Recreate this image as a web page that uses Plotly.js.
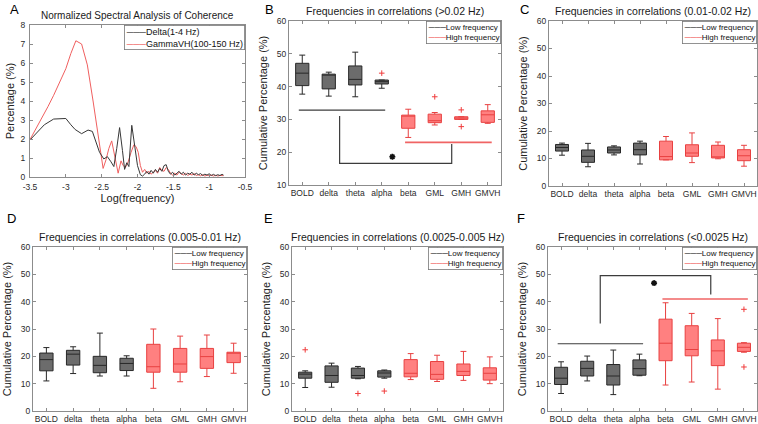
<!DOCTYPE html>
<html><head><meta charset="utf-8">
<script src="https://cdn.plot.ly/plotly-3.0.1.min.js"></script>
<style>html,body{margin:0;padding:0;background:#fff}#chart{width:758px;height:424px}</style>
</head><body><div id="chart"></div>
<script>
// ---------- Panel A data ----------
const deltaX = [-3.5,-3.4,-3.3,-3.17,-3.0,-2.93,-2.87,-2.78,-2.69,-2.63,-2.58,-2.53,-2.47,-2.42,-2.37,-2.33,-2.29,-2.25,-2.21,-2.18,-2.15,-2.12,-2.08,-2.04,-2.0,-1.96,-1.93,
  -1.9,-1.87,-1.84,-1.81,-1.78,-1.75,-1.72,-1.69,-1.66,-1.63,-1.6,-1.57,-1.54,-1.51,-1.48,-1.45,-1.42,-1.39,-1.36,-1.33,-1.3,-1.27,-1.24,-1.21,-1.18,-1.15,-1.12,-1.09,-1.06,-1.03,-1.0,-0.97,-0.94,-0.91,-0.88,-0.85,-0.82,-0.8];
const deltaY = [1.95,2.35,2.75,3.05,3.08,2.75,2.5,2.28,2.47,2.4,1.9,1.3,0.95,1.07,0.8,0.55,1.5,2.6,1.4,0.4,0.75,0.55,2.72,1.6,0.6,0.12,0.05,
  0.15,0.3,0.15,0.35,0.2,0.4,0.25,0.45,0.3,0.6,0.65,0.3,0.15,0.25,0.1,0.2,0.3,0.15,0.25,0.1,0.2,0.15,0.25,0.1,0.2,0.12,0.18,0.08,0.15,0.1,0.17,0.08,0.14,0.07,0.12,0.08,0.14,0.1];
const gammaX = [-3.5,-3.42,-3.34,-3.25,-3.17,-3.08,-3.0,-2.93,-2.86,-2.78,-2.7,-2.62,-2.57,-2.53,-2.48,-2.44,-2.4,-2.36,-2.33,-2.3,-2.27,-2.23,-2.2,-2.17,-2.13,-2.09,-2.05,-2.02,-1.99,-1.96,-1.93,
  -1.9,-1.87,-1.84,-1.81,-1.78,-1.75,-1.72,-1.69,-1.66,-1.63,-1.6,-1.57,-1.54,-1.51,-1.48,-1.45,-1.42,-1.39,-1.36,-1.33,-1.3,-1.27,-1.24,-1.21,-1.18,-1.15,-1.12,-1.09,-1.06,-1.03,-1.0,-0.97,-0.94,-0.91,-0.88,-0.85,-0.82,-0.8];
const gammaY = [1.97,2.5,3.1,3.7,4.3,5.0,5.7,6.5,7.17,7.0,5.9,4.0,2.8,1.6,0.45,0.9,1.5,1.9,1.3,0.6,0.2,0.85,0.6,0.5,0.8,1.3,1.7,1.6,1.3,0.6,0.25,
  0.4,0.2,0.3,0.15,0.25,0.35,0.2,0.5,0.35,0.3,0.5,0.4,0.2,0.1,0.2,0.1,0.25,0.15,0.1,0.2,0.08,0.15,0.1,0.18,0.08,0.12,0.06,0.12,0.05,0.1,0.06,0.1,0.05,0.09,0.05,0.08,0.05,0.07];
const aTickVals = [-3.5,-3,-2.5,-2,-1.5,-1,-0.5];
const aTickText = ['-3.5','-3','-2.5','-2','-1.5','-1','-0.5'];

// ---------- Box panels ----------
const cats = ['BOLD','delta','theta','alpha','beta','GML','GMH','GMVH'];
const nLow = 4;

// B (>0.02 Hz)
const bLo  = [37.7,37.1,36.9,39.5,24.5,28.3,30.0,28.8];
const bQ1  = [40.3,39.3,40.5,40.8,27.3,29.0,30.0,29.1];
const bMed = [44.1,43.6,42.2,41.5,31.0,29.6,30.4,31.4];
const bQ3  = [47.1,43.8,46.3,42.0,31.3,31.6,30.8,32.6];
const bHi  = [49.6,44.4,50.5,42.0,33.1,32.1,30.8,34.5];
const bOutCat = ['alpha','GML','GMH','GMH'];
const bOutVal = [44.1,36.9,32.9,27.8];
const bLowBarX = [0.87,4.13], bLowBarY = [32.8,32.8];
const bHighBarX = [4.88,8.15], bHighBarY = [23.0,23.0];
const bBracketX = [2.41,2.41,6.64,6.64], bBracketY = [31.0,16.6,16.6,22.5];
const bStar = [4.4,18.6];

// C (0.01-0.02 Hz)
const cLo  = [11.2,7.0,11.3,8.0,9.5,8.5,9.9,7.2];
const cQ1  = [12.7,8.6,12.0,11.3,9.5,10.8,10.2,9.2];
const cMed = [14.0,10.8,13.1,13.2,10.7,12.0,10.6,11.0];
const cQ3  = [15.1,13.1,14.2,15.6,16.3,15.0,14.8,13.2];
const cHi  = [15.6,15.5,14.6,16.3,18.0,19.3,16.0,14.8];

// D (0.005-0.01 Hz)
const dLo  = [11.0,13.7,12.8,12.8,8.3,10.7,12.6,13.8];
const dQ1  = [14.7,16.8,14.0,14.8,14.2,14.2,15.6,17.7];
const dMed = [18.8,20.8,16.7,17.4,16.2,17.2,19.9,21.2];
const dQ3  = [21.2,22.2,20.0,19.3,24.4,22.9,22.9,21.5];
const dHi  = [23.2,23.5,28.5,20.2,30.0,27.4,27.8,24.8];

// E (0.0025-0.005 Hz)
const eLo  = [8.6,8.7,11.8,12.0,11.5,10.8,11.2,10.0];
const eQ1  = [12.0,10.5,12.0,12.4,12.5,11.6,13.0,11.3];
const eMed = [13.5,13.0,13.0,13.9,13.8,13.4,14.5,13.8];
const eQ3  = [14.2,16.5,15.7,14.7,18.8,18.1,17.2,15.8];
const eHi  = [14.7,17.5,16.3,15.0,21.0,20.4,21.8,19.8];
const eOutCat = ['BOLD','theta','alpha'];
const eOutVal = [22.4,6.4,7.3];

// F (<0.0025 Hz)
const fLo  = [6.4,11.0,6.0,12.9,9.5,10.6,8.0,21.5];
const fQ1  = [9.7,12.8,9.5,13.1,18.4,20.2,16.6,21.8];
const fMed = [12.0,15.6,12.8,15.5,24.8,22.5,22.0,23.3];
const fQ3  = [16.0,18.2,17.0,18.7,33.6,31.2,26.0,24.8];
const fHi  = [18.0,20.1,22.3,20.8,39.6,35.7,33.8,25.0];
const fOutCat = ['GMVH','GMVH'];
const fOutVal = [37.2,16.1];
const fLowBarX = [0.87,4.14], fLowBarY = [24.6,24.6];
const fHighBarX = [4.88,8.15], fHighBarY = [41.0,41.0];
const fBracketX = [2.5,2.5,6.73,6.73], fBracketY = [32.0,49.5,49.5,42.6];
const fStar = [4.56,46.8];

// ---------- styling ----------
const W = 758, H = 424;
const FONT = 'Liberation Sans, Arial, Helvetica, sans-serif';
const LOW_FILL = 'rgb(108,108,108)', LOW_LINE = 'rgb(40,40,40)';
const HIGH_FILL = 'rgb(255,128,128)', HIGH_LINE = 'rgb(232,64,64)';
const BAR_DARK = 'rgb(60,60,60)', BAR_RED = 'rgb(240,100,100)';
const pos = c => cats.indexOf(c) + 1;

const traces = [];
traces.push({type:'scatter', mode:'lines', x:gammaX, y:gammaY, xaxis:'x', yaxis:'y',
  line:{color:'rgb(240,95,95)', width:1}, showlegend:false, hoverinfo:'skip'});
traces.push({type:'scatter', mode:'lines', x:deltaX, y:deltaY, xaxis:'x', yaxis:'y',
  line:{color:'rgb(55,55,55)', width:1}, showlegend:false, hoverinfo:'skip'});

function addBoxes(n, lo, q1, med, q3, hi) {
  const xa = 'x' + n, ya = 'y' + n;
  const groups = [[0, nLow, LOW_FILL, LOW_LINE], [nLow, cats.length, HIGH_FILL, HIGH_LINE]];
  groups.forEach(([s, e, fill, line]) => {
    traces.push({type:'box', xaxis:xa, yaxis:ya, showlegend:false,
      x: cats.slice(s, e).map(pos),
      lowerfence: lo.slice(s, e), q1: q1.slice(s, e), median: med.slice(s, e),
      q3: q3.slice(s, e), upperfence: hi.slice(s, e),
      width: 0.5, whiskerwidth: 0.45, boxpoints: false,
      fillcolor: fill, line:{color: line, width: 1}, hoverinfo:'skip'});
  });
}
function addOutliers(n, oc, ov) {
  traces.push({type:'scatter', mode:'markers', xaxis:'x'+n, yaxis:'y'+n, showlegend:false,
    x: oc.map(pos), y: ov, marker:{symbol:'cross-thin', size:4, color:'rgb(240,60,60)', line:{color:'rgb(240,60,60)', width:1}}, hoverinfo:'skip'});
}
function addLine(n, xs, ys, color, w) {
  traces.push({type:'scatter', mode:'lines', xaxis:'x'+n, yaxis:'y'+n, showlegend:false,
    x: xs, y: ys, line:{color: color, width: w}, hoverinfo:'skip'});
}
function addStar(n, p) {
  traces.push({type:'scatter', mode:'markers', xaxis:'x'+n, yaxis:'y'+n, showlegend:false,
    x:[p[0]], y:[p[1]], marker:{symbol:'asterisk', size:5, color:'#111', line:{color:'#111', width:1.6}}, hoverinfo:'skip'});
}

addLine(2, bLowBarX, bLowBarY, BAR_DARK, 1.2);
addLine(2, bHighBarX, bHighBarY, BAR_RED, 1.6);
addLine(2, bBracketX, bBracketY, BAR_DARK, 1.2);
addBoxes(2, bLo, bQ1, bMed, bQ3, bHi);
addOutliers(2, bOutCat, bOutVal);
addStar(2, bStar);

addBoxes(3, cLo, cQ1, cMed, cQ3, cHi);
addBoxes(4, dLo, dQ1, dMed, dQ3, dHi);
addBoxes(5, eLo, eQ1, eMed, eQ3, eHi);
addOutliers(5, eOutCat, eOutVal);

addLine(6, fLowBarX, fLowBarY, BAR_DARK, 1.2);
addLine(6, fHighBarX, fHighBarY, BAR_RED, 1.6);
addLine(6, fBracketX, fBracketY, BAR_DARK, 1.2);
addBoxes(6, fLo, fQ1, fMed, fQ3, fHi);
addOutliers(6, fOutCat, fOutVal);
addStar(6, fStar);

// ---------- layout ----------
const px = [[30,245],[289,501],[549,757],[33,247],[292,503],[548,757]];
const py = [[25,177],[21,185],[21,186],[247,411],[247,411],[247,411]];
const yRanges = [[0,8],[10,60],[0,60],[0,60],[0,60],[0,60]];
const titles = ['Normalized Spectral Analysis of Coherence',
  'Frequencies in correlations (>0.02 Hz)',
  'Frequencies in correlations (0.01-0.02 Hz)',
  'Frequencies in correlations (0.005-0.01 Hz)',
  'Frequencies in correlations (0.0025-0.005 Hz)',
  'Frequencies in correlations (<0.0025 Hz)'];
const letters = ['A','B','C','D','E','F'];
const letterPos = [[8,9],[263,9],[518,9],[5,218],[262,218],[515,218]];

function baseAxis() {
  return {showline:true, mirror:'ticks', linecolor:'#8c8c8c', linewidth:1,
    ticks:'inside', ticklen:3, tickcolor:'#8c8c8c', showgrid:false, zeroline:false,
    automargin:false, fixedrange:true, tickangle:0,
    tickfont:{family:FONT, size:8.5, color:'#2a2a2a'}};
}

const layout = {width:W, height:H, margin:{l:0,r:0,t:0,b:0},
  paper_bgcolor:'#fff', plot_bgcolor:'#fff', showlegend:false, boxmode:'overlay',
  annotations:[], font:{family:FONT}};

for (let i = 0; i < 6; i++) {
  const k = i === 0 ? '' : String(i + 1);
  const xa = baseAxis(), ya = baseAxis();
  xa.domain = [px[i][0] / W, px[i][1] / W];
  ya.domain = [1 - py[i][1] / H, 1 - py[i][0] / H];
  xa.anchor = 'y' + k; ya.anchor = 'x' + k;
  ya.range = yRanges[i];
  if (i === 0) {
    xa.range = [-3.5, -0.5]; xa.tickmode = 'array'; xa.tickvals = aTickVals; xa.ticktext = aTickText;
    xa.ticklabelstandoff = 2; ya.ticklabelstandoff = 2;
    xa.title = {text:'Log(frequency)', font:{family:FONT, size:11, color:'#222'}, standoff:0};
    ya.tickmode = 'linear'; ya.tick0 = 0; ya.dtick = 1;
    ya.title = {text:'Percentage (%)', font:{family:FONT, size:11, color:'#222'}, standoff:3};
  } else {
    xa.range = [0.5, 8.5]; xa.tickmode = 'array';
    xa.tickvals = cats.map(pos); xa.ticktext = cats;
    ya.tickmode = 'linear'; ya.tick0 = 0; ya.dtick = 10;
    ya.title = {text:'Cumulative Percentage (%)', font:{family:FONT, size:11, color:'#222'}, standoff:6};
  }
  layout['xaxis' + k] = xa; layout['yaxis' + k] = ya;

  layout.annotations.push({xref:'paper', yref:'paper', x:(px[i][0] + px[i][1]) / 2 / W,
    y:1 - (py[i][0] - 2) / H, xanchor:'center', yanchor:'bottom', showarrow:false,
    text:titles[i], font:{family:FONT, size: i === 0 ? 10 : 10.5, color:'#1a1a1a'}});
  layout.annotations.push({xref:'paper', yref:'paper', x:letterPos[i][0] / W, y:1 - letterPos[i][1] / H,
    xanchor:'left', yanchor:'middle', showarrow:false, text:letters[i],
    font:{family:FONT, size:13, color:'#000'}});
  const legText = i === 0
    ? '<span style="color:rgb(55,55,55)">───</span>Delta(1-4 Hz)<br><span style="color:rgb(240,95,95)">───</span>GammaVH(100-150 Hz)'
    : '<span style="color:rgb(30,30,30)">───</span>Low frequency<br><span style="color:rgb(240,80,80)">───</span>High frequency';
  layout.annotations.push({xref:'paper', yref:'paper', x:px[i][1] / W, y:1 - py[i][0] / H,
    xanchor:'right', yanchor:'top', showarrow:false, align:'left', text:legText,
    font:{family:FONT, size: i === 0 ? 9 : 8, color:'#111'}, bgcolor:'#fff', bordercolor:'#777', borderwidth:0.8, borderpad:1});
}

Plotly.newPlot('chart', traces, layout, {staticPlot:true, displayModeBar:false});
</script></body></html>
